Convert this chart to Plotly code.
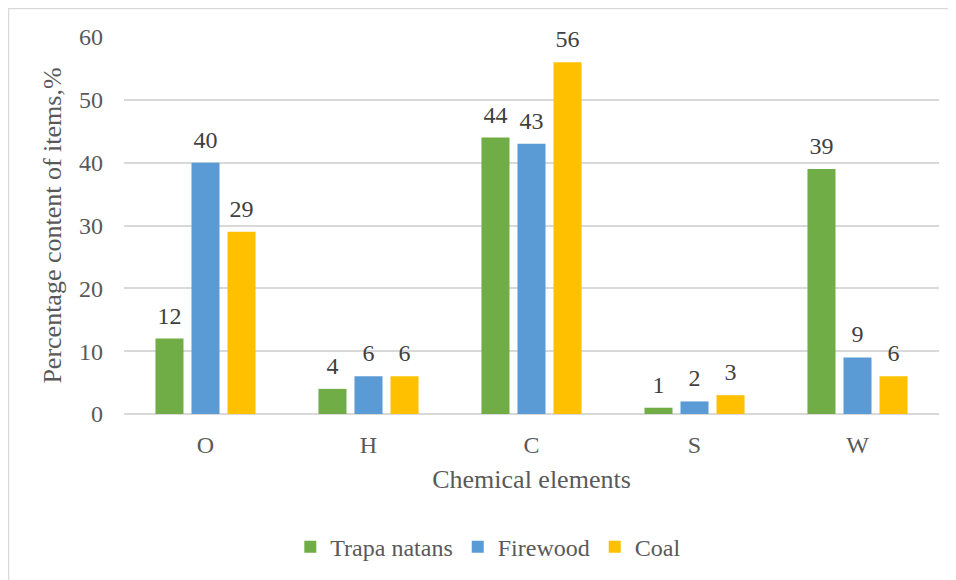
import plotly.graph_objects as go

categories = ["O", "H", "C", "S", "W"]
trapa_natans = [12, 4, 44, 1, 39]
firewood = [40, 6, 43, 2, 9]
coal = [29, 6, 56, 3, 6]
series_names = ["Trapa natans", "Firewood", "Coal"]
colors = ["#70AD47", "#5B9BD5", "#FFC000"]

FONT = "Liberation Serif"
PAD = "<span style='font-size:56px'>\u00a0</span>"

fig = go.Figure()
for name, vals, col in zip(series_names, [trapa_natans, firewood, coal], colors):
    fig.add_trace(go.Bar(
        x=categories, y=vals, name=name,
        marker=dict(color=col, line=dict(width=0)),
        text=vals,
        texttemplate=PAD + "%{y}" + PAD,
        textposition="outside",
        constraintext="none",
        textfont=dict(family=FONT, size=24, color="#404040"),
        cliponaxis=False,
    ))

fig.update_layout(
    width=956, height=580,
    margin=dict(l=116, r=25, t=29, b=174),
    paper_bgcolor="white", plot_bgcolor="white",
    barmode="group", bargap=0.337, bargroupgap=0.222,
    font=dict(family=FONT, size=24, color="#595959"),
    showlegend=True,
    legend=dict(orientation="h", x=0.447, xanchor="center", y=-0.353, yanchor="middle",
                font=dict(family=FONT, size=24, color="#595959"),
                itemwidth=30, traceorder="normal"),
    xaxis=dict(
        showgrid=False, showline=False, ticks="",
        tickfont=dict(family=FONT, size=24, color="#595959"),
        ticklabelstandoff=14,
        title=dict(text="Chemical elements", font=dict(family=FONT, size=26, color="#595959"), standoff=12),
    ),
    yaxis=dict(
        range=[0, 60], dtick=10, showgrid=True, gridcolor="#D9D9D9", gridwidth=1.5,
        zeroline=True, zerolinecolor="#D9D9D9", zerolinewidth=1.5,
        showline=False, ticks="",
        tickfont=dict(family=FONT, size=24, color="#595959"),
        ticklabelstandoff=20,
        title=dict(text="Percentage content of items,%", font=dict(family=FONT, size=26, color="#595959"), standoff=9),
    ),
    shapes=[dict(type="rect", xref="paper", yref="paper",
                 x0=(0.5 - 116) / 815, x1=2, y0=-2, y1=(377 + 0.5) / 377 + 28 / 377,
                 line=dict(color="#D9D9D9", width=1.5), fillcolor="rgba(0,0,0,0)", layer="below")],
)

fig.write_html("out.html")
